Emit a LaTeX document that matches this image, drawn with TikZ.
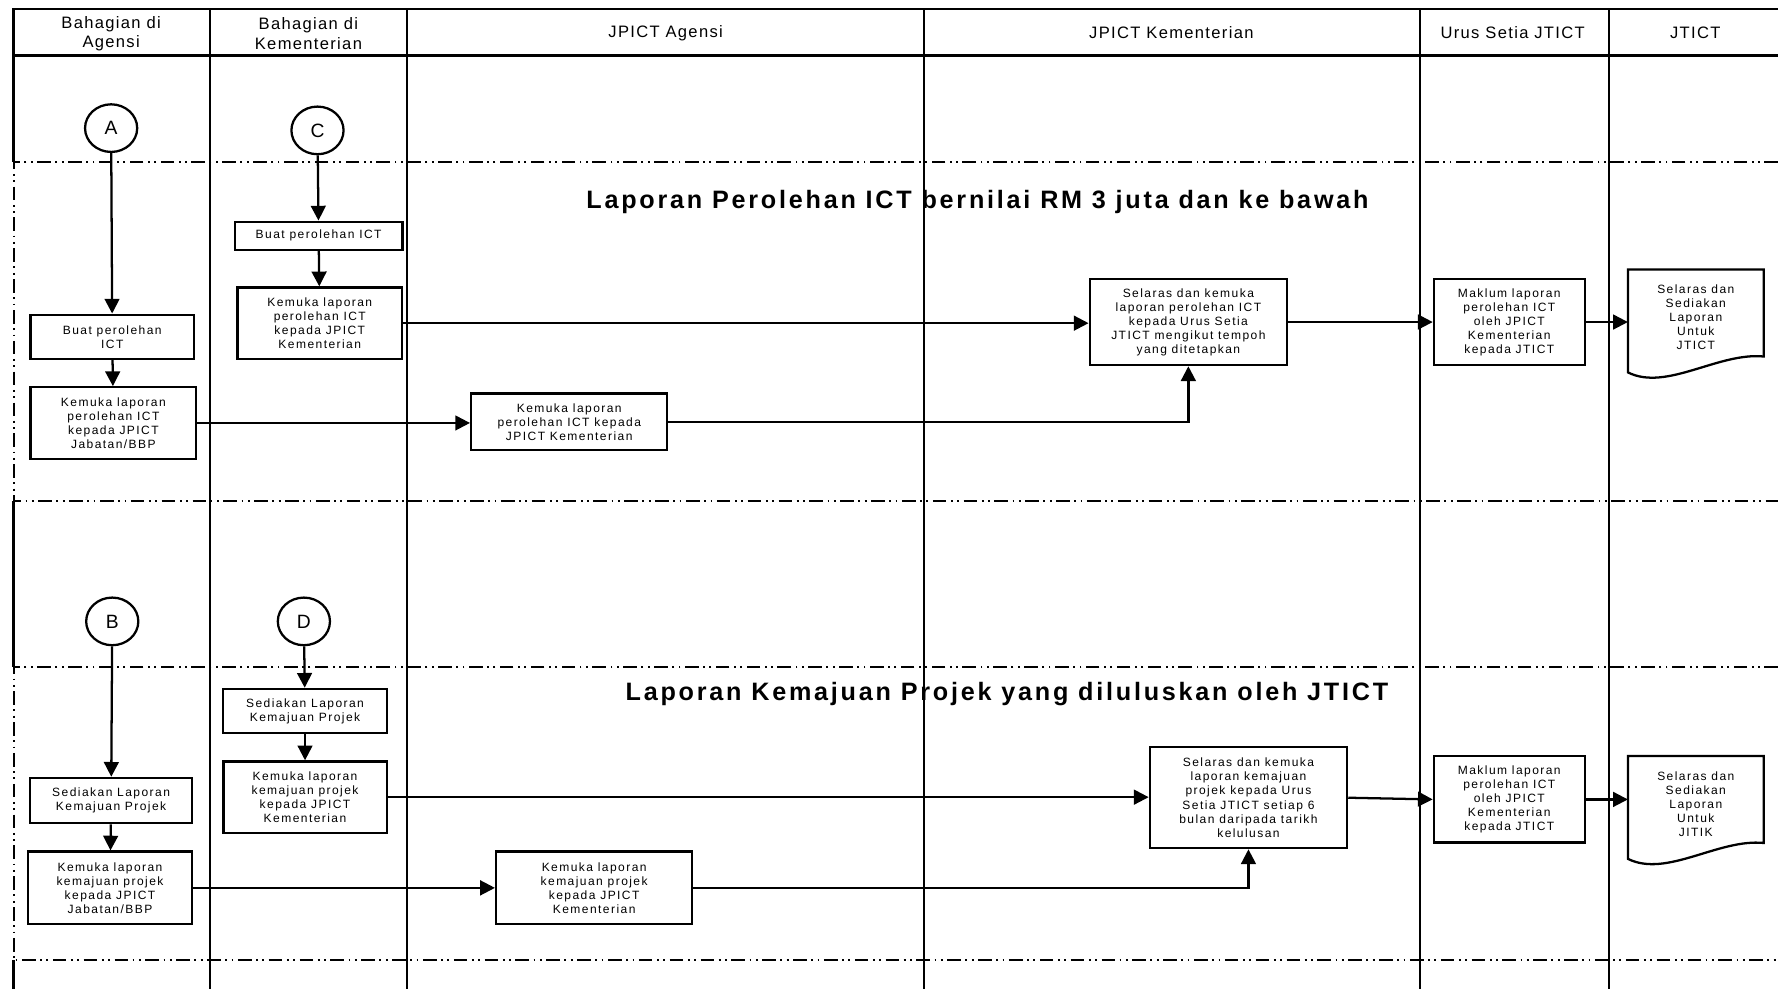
\documentclass[tikz,border=0pt]{standalone}
\usepackage{fontspec}
\setmainfont{Liberation Sans}
\newfontfamily\headfont[LetterSpace=8]{Liberation Sans}
\newfontfamily\boxfont[LetterSpace=12]{Liberation Sans}
\newfontfamily\titlefont[LetterSpace=11]{Liberation Sans}
\usetikzlibrary{shapes.geometric, arrows.meta, positioning, calc}
\tikzset{
  procnode/.style={rectangle, draw, line width=1pt, align=center, inner sep=1pt, font=\boxfont\fontsize{5.3}{6.2}\selectfont},
  docnode/.style={rectangle, align=center, inner sep=1pt, minimum width=59.5pt, minimum height=42pt, font=\boxfont\fontsize{5.3}{6.2}\selectfont},
  refnode/.style={ellipse, draw, line width=1pt, minimum width=23pt, minimum height=21pt, inner sep=0pt, font=\fontsize{8.5}{10}\selectfont},
  headlabel/.style={align=center, font=\headfont\fontsize{7.3}{8.5}\selectfont},
  grouptitle/.style={font=\titlefont\bfseries\fontsize{11.1}{13}\selectfont},
  flowarrow/.style={-{Triangle[length=6.5pt, width=6.5pt]}, line width=1pt},
  lanerule/.style={line width=1pt},
  grouprule/.style={line width=0.9pt, dash pattern=on 6pt off 2pt on 0.8pt off 2pt on 0.8pt off 2pt},
}
\begin{document}
\begin{tikzpicture}[x=0.5pt, y=-0.5pt]
\useasboundingbox (0,0) rectangle (1568,872);
% lanes and frame
\foreach \lx in {185,359,815,1252,1419}
  \draw[lanerule] (\lx,8) -- (\lx,872);
\draw[lanerule] (1568,8) -- (12,8) -- (12,143);
\draw[lanerule] (12,49) -- (1568,49);
\draw[lanerule] (12,442) -- (12,588);
\draw[lanerule] (12,847) -- (12,872);
\draw[grouprule] (1568,143) -- (12,143) -- (12,442) -- (1568,442);
\draw[grouprule] (1568,588) -- (12,588) -- (12,847) -- (1568,847);
% lane headers
\node[headlabel] (hAgensi) at (98,29.5) {Bahagian di\\Agensi};
\node[headlabel] (hKem) at (272,29.5) {Bahagian di\\Kementerian};
\node[headlabel] (hJagensi) at (587,29) {JPICT Agensi};
\node[headlabel] (hJkem) at (1033,29) {JPICT Kementerian};
\node[headlabel] (hUrus) at (1334,29) {Urus Setia JTICT};
\node[headlabel] (hJtict) at (1495,29) {JTICT};
% group titles
\node[grouptitle] (title1) at (862,178) {Laporan Perolehan ICT bernilai RM 3 juta dan ke bawah};
\node[grouptitle] (title2) at (888,612) {Laporan Kemajuan Projek yang diluluskan oleh JTICT};

% perolehan ICT
\node[refnode] (A) at (98,113) {A};
\node[refnode] (C) at (280,115) {C};
\node[procnode, minimum width=74pt, minimum height=12.5pt] (c1) at (281,208) {Buat perolehan ICT};
\node[procnode, minimum width=72.5pt, minimum height=31.5pt] (c2) at (282,285) {Kemuka laporan\\perolehan ICT\\kepada JPICT\\Kementerian};
\node[procnode, minimum width=72pt, minimum height=19.5pt] (a1) at (99,297) {Buat perolehan\\ICT};
\node[procnode, minimum width=73pt, minimum height=31.5pt] (a2) at (100,373) {Kemuka laporan\\perolehan ICT\\kepada JPICT\\Jabatan/BBP};
\node[procnode, minimum width=86.5pt, minimum height=25pt] (j1) at (502,372) {Kemuka laporan\\perolehan ICT kepada\\JPICT Kementerian};
\node[procnode, minimum width=87pt, minimum height=38pt] (k1) at (1048,284) {Selaras dan kemuka\\laporan perolehan ICT\\kepada Urus Setia\\JTICT mengikut tempoh\\yang ditetapkan};
\node[procnode, minimum width=66.5pt, minimum height=38pt] (u1) at (1331,284) {Maklum laporan\\perolehan ICT\\oleh JPICT\\Kementerian\\kepada JTICT};
\node[docnode] (t1) at (1495.5,280) {Selaras dan\\Sediakan\\Laporan\\Untuk\\JTICT};
\draw[lanerule] (t1.north west) -- (t1.north east) -- ($(t1.south east)+(0,-8)$)
  .. controls ($(t1.south east)+(-40,-12)$) and ($(t1.south west)+(34,23)$) .. ($(t1.south west)+(0,6)$) -- cycle;

\draw[flowarrow] (A) -- (a1);
\draw[flowarrow] (a1) -- (a2);
\draw[flowarrow] (C) -- (c1);
\draw[flowarrow] (c1) -- (c2);
\draw[flowarrow] (c2.east) -- (c2.east -| k1.west);
\draw[flowarrow] (a2.east) -- (a2.east -| j1.west);
\draw[flowarrow] (j1.east) -| (k1.south);
\draw[flowarrow] (k1.east) -- (u1.west);
\draw[flowarrow] (u1.east) -- (u1.east -| t1.west);

% kemajuan projek
\node[refnode] (B) at (99,548) {B};
\node[refnode] (D) at (268,548) {D};
\node[procnode, minimum width=72.5pt, minimum height=19.5pt] (d1) at (269,627) {Sediakan Laporan\\Kemajuan Projek};
\node[procnode, minimum width=72pt, minimum height=31.5pt] (d2) at (269,703) {Kemuka laporan\\kemajuan projek\\kepada JPICT\\Kementerian};
\node[procnode, minimum width=71.5pt, minimum height=20pt] (b1) at (98,706) {Sediakan Laporan\\Kemajuan Projek};
\node[procnode, minimum width=72.5pt, minimum height=32pt] (b2) at (97,783) {Kemuka laporan\\kemajuan projek\\kepada JPICT\\Jabatan/BBP};
\node[procnode, minimum width=86.5pt, minimum height=32pt] (j2) at (524,783) {Kemuka laporan\\kemajuan projek\\kepada JPICT\\Kementerian};
\node[procnode, minimum width=87pt, minimum height=44.5pt] (k2) at (1101,703.5) {Selaras dan kemuka\\laporan kemajuan\\projek kepada Urus\\Setia JTICT setiap 6\\bulan daripada tarikh\\kelulusan};
\node[procnode, minimum width=66.5pt, minimum height=38pt] (u2) at (1331,705) {Maklum laporan\\perolehan ICT\\oleh JPICT\\Kementerian\\kepada JTICT};
\node[docnode] (t2) at (1495.5,709) {Selaras dan\\Sediakan\\Laporan\\Untuk\\JITIK};
\draw[lanerule] (t2.north west) -- (t2.north east) -- ($(t2.south east)+(0,-8)$)
  .. controls ($(t2.south east)+(-40,-12)$) and ($(t2.south west)+(34,23)$) .. ($(t2.south west)+(0,6)$) -- cycle;

\draw[flowarrow] (B) -- (b1);
\draw[flowarrow] (b1) -- (b2);
\draw[flowarrow] (D) -- (d1);
\draw[flowarrow] (d1) -- (d2);
\draw[flowarrow] (d2.east) -- (d2.east -| k2.west);
\draw[flowarrow] (b2.east) -- (b2.east -| j2.west);
\draw[flowarrow] (j2.east) -| (k2.south);
\draw[flowarrow] (k2.east) -- (u2.west);
\draw[flowarrow] (u2.east) -- (u2.east -| t2.west);
\end{tikzpicture}
\end{document}
